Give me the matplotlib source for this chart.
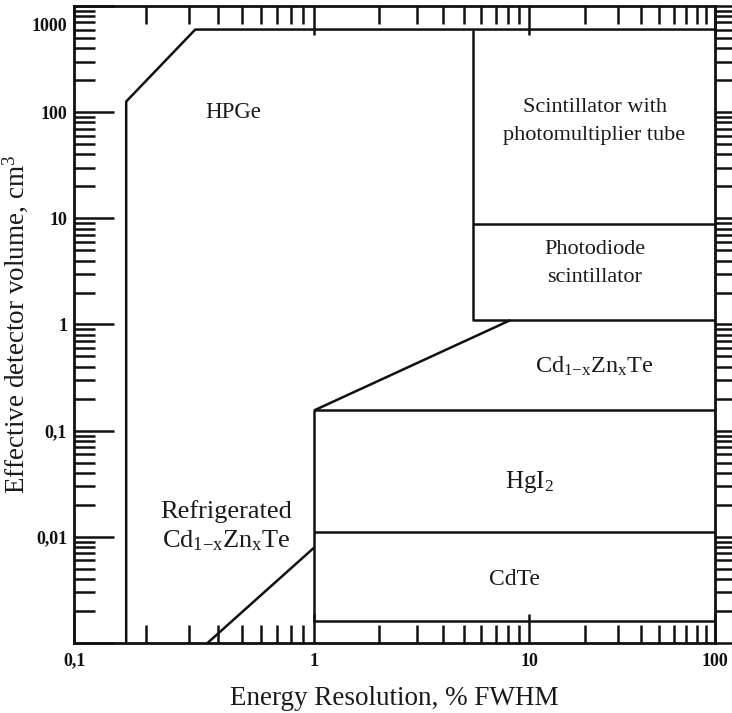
import numpy as np
import matplotlib
matplotlib.use('Agg')
import matplotlib.pyplot as plt
import matplotlib.transforms as mtransforms
from matplotlib.ticker import FixedLocator, FixedFormatter, NullFormatter

plt.rcParams['font.family'] = ['Liberation Serif', 'DejaVu Serif']
plt.rcParams['mathtext.fontset'] = 'custom'
plt.rcParams['mathtext.rm'] = 'Liberation Serif'
plt.rcParams['mathtext.it'] = 'Liberation Serif'

# region boundaries (energy resolution %, volume cm^3)
hpge_x = [0.165, 0.165, 0.32, 100]
hpge_y = [0.001, 126, 600, 600]
scint_x = [5.5, 5.5, 100]
scint_y = [600, 1.1, 1.1]
photodiode_x = [5.5, 100]
photodiode_y = [8.8, 8.8]
czt_x = [1, 8.2]
czt_y = [0.155, 1.1]
hgi2_x = [1, 100]
hgi2_y = [0.155, 0.155]
cdte_top_x = [1, 100]
cdte_top_y = [0.011, 0.011]
cdte_x = [1, 1, 100]
cdte_y = [0.155, 0.0016, 0.0016]
refrig_x = [0.36, 1]
refrig_y = [0.001, 0.0079]

x_ticks = [0.1, 1, 10, 100]
x_labels = ['0,1', '1', '10', '100']
y_ticks = [0.001, 0.01, 0.1, 1, 10, 100, 1000]
y_labels = ['', '0,01', '0,1', '1', '10', '100', '1000']

# the decades on the energy axis are not drawn equally wide
dec_log = np.array([-1.0, 0.0, 1.0, 2.0])
dec_pos = np.array([0.0, 240.0, 455.0, 641.0])


def fwd(x):
    return np.interp(np.log10(np.clip(x, 1e-6, None)), dec_log, dec_pos)


def inv(p):
    return 10 ** np.interp(p, dec_pos, dec_log)


fig = plt.figure(figsize=(7.32, 7.13), dpi=100)
ax = fig.add_axes([74 / 732, 1 - 643 / 713, (715 - 74) / 732, (643 - 6) / 713])
ax.set_xscale('function', functions=(fwd, inv))
ax.set_yscale('log')
ax.set_xlim(0.1, 100)
ax.set_ylim(0.001, 1000)

lc = '#111111'
lw = 1.8
for xs, ys in [(hpge_x, hpge_y), (scint_x, scint_y), (photodiode_x, photodiode_y),
               (czt_x, czt_y), (hgi2_x, hgi2_y), (cdte_top_x, cdte_top_y),
               (cdte_x, cdte_y), (refrig_x, refrig_y)]:
    ax.plot(xs, ys, color=lc, lw=lw, solid_capstyle='butt', clip_on=False)

for s in ax.spines.values():
    s.set_linewidth(2.0)
    s.set_color(lc)

minor_x = [m * 10.0 ** d for d in (-1, 0, 1) for m in range(2, 10)]
minor_y = [m * 10.0 ** d for d in range(-3, 3) for m in range(2, 10)]

ax.xaxis.set_major_locator(FixedLocator(x_ticks))
ax.xaxis.set_major_formatter(FixedFormatter(x_labels))
ax.xaxis.set_minor_locator(FixedLocator(minor_x))
ax.xaxis.set_minor_formatter(NullFormatter())
ax.yaxis.set_major_locator(FixedLocator(y_ticks))
ax.yaxis.set_major_formatter(FixedFormatter(y_labels))
ax.yaxis.set_minor_locator(FixedLocator(minor_y))
ax.yaxis.set_minor_formatter(NullFormatter())

ax.tick_params(which='both', direction='in', top=True, right=False, color=lc, width=1.8,
               labelsize=13, labelcolor='#111111')
ax.tick_params(axis='x', which='major', length=21, pad=7)
ax.tick_params(axis='x', which='minor', length=13)
ax.tick_params(axis='y', which='major', length=29, pad=5)
ax.tick_params(axis='y', which='minor', length=15)
for lab in ax.get_xticklabels() + ax.get_yticklabels():
    lab.set_fontweight('bold')

# the top label sits a little below its tick
top_lab = ax.yaxis.get_major_ticks()[-1].label1
top_lab.set_transform(top_lab.get_transform()
                      + mtransforms.ScaledTranslation(0, -13 / 72, fig.dpi_scale_trans))

# outward ticks along the right edge
axr = ax.twinx()
axr.set_yscale('log')
axr.set_ylim(ax.get_ylim())
axr.yaxis.set_major_locator(FixedLocator(y_ticks))
axr.yaxis.set_minor_locator(FixedLocator(minor_y))
axr.yaxis.set_major_formatter(NullFormatter())
axr.yaxis.set_minor_formatter(NullFormatter())
axr.tick_params(which='both', direction='out', color=lc, width=1.8)
axr.tick_params(which='major', length=18)
axr.tick_params(which='minor', length=12)
for s in axr.spines.values():
    s.set_visible(False)

tc = '#1a1a1a'
ax.set_xlabel('Energy Resolution, % FWHM', fontsize=19.5, color=tc, labelpad=12)
ax.set_ylabel('Effective detector volume, cm$^3$', fontsize=19.5, color=tc)
ax.yaxis.set_label_coords(-0.068, 0.5)

czt = r'Cd$_\mathrm{1{-}x}$Zn$_\mathrm{x}$Te'
ax.text(0.46, 100, 'HPGe', fontsize=16.5, color=tc, ha='center', va='center')
ax.text(22.5, 82, 'Scintillator with\nphotomultiplier tube', fontsize=16, color=tc,
        ha='center', va='center', linespacing=1.6)
ax.text(22.5, 3.76, 'Photodiode\nscintillator', fontsize=16, color=tc,
        ha='center', va='center', linespacing=1.6)
ax.text(22.5, 0.4, czt, fontsize=17.5, color=tc, ha='center', va='center')
ax.text(10, 0.033, r'HgI$_2$', fontsize=18, color=tc, ha='center', va='center')
ax.text(8.6, 0.0040, 'CdTe', fontsize=17, color=tc, ha='center', va='center')
ax.text(0.43, 0.0125, 'Refrigerated\n' + czt, fontsize=19, color=tc,
        ha='center', va='center', linespacing=1.25)

fig.savefig('out.png', dpi=100)
